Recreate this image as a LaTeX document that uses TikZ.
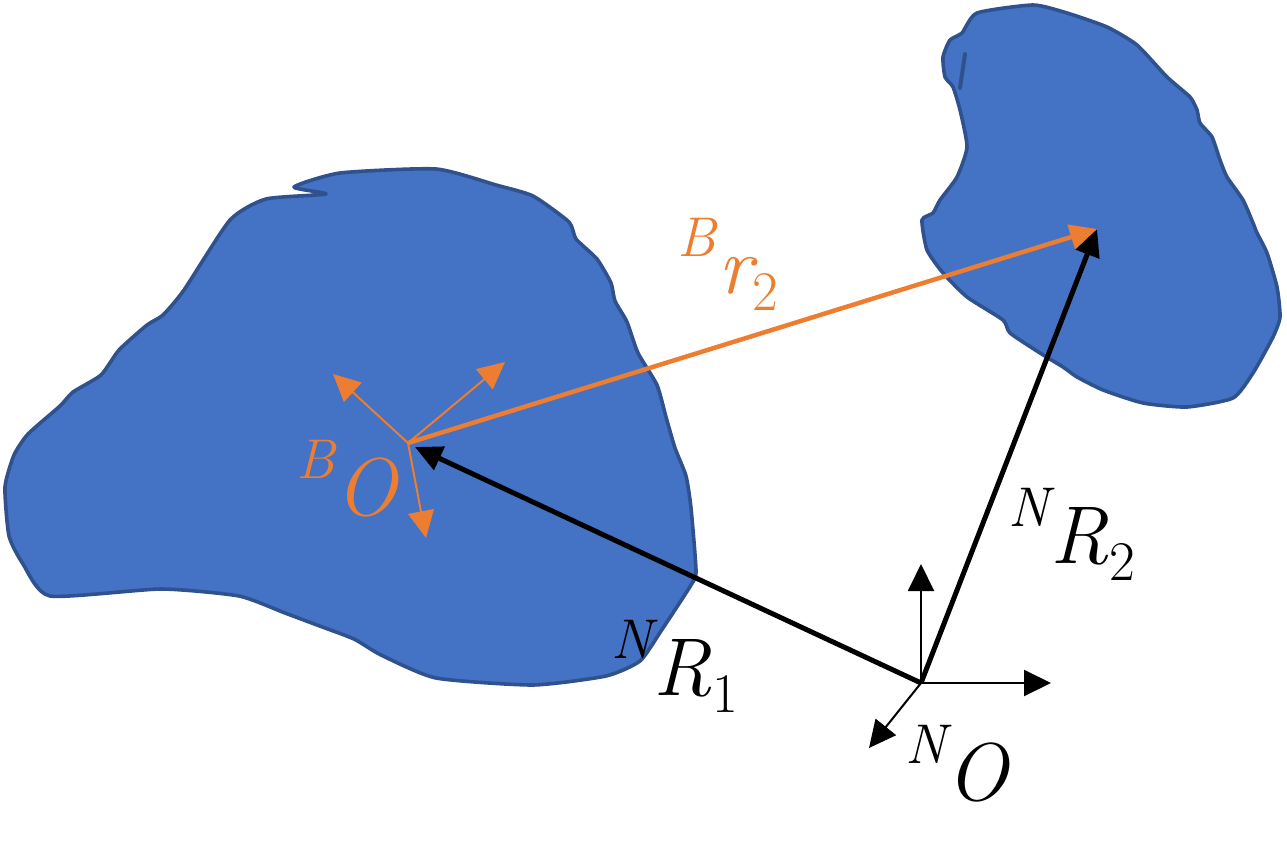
\documentclass[tikz,border=0pt]{standalone}
\usetikzlibrary{arrows.meta}
\definecolor{blobfill}{HTML}{4472C4}
\definecolor{blobline}{HTML}{2F528F}
\definecolor{orng}{HTML}{ED7D31}
\newcommand\mysup[1]{\raisebox{37pt}{\fontsize{56}{60}\selectfont\itshape #1}}
\newcommand\mysub[1]{\raisebox{-17pt}{\fontsize{56}{60}\selectfont\upshape #1}}
\tikzset{
  blob/.style={fill=blobfill,draw=blobline,line width=3.6pt,line join=round},
  thickarrow/.style={line width=5pt,-{Triangle[length=27pt,width=25pt]}},
  thinarrow/.style={line width=2pt,-{Triangle[length=27pt,width=26pt]}},
  lbl/.style={inner sep=0pt,anchor=base west,font=\fontsize{82}{90}\selectfont\itshape}
}
\begin{document}
\begin{tikzpicture}[x=1pt,y=-1pt]
\useasboundingbox (0,0) rectangle (1287,843);
% left body
\draw[blob] plot[smooth cycle,tension=0.35] coordinates {
 (340,173) (436,169) (496,185) (533,196) (569,222) (576,239) (597,259) (611,283)
 (615,301) (627,322) (638,353) (657,385) (666,417) (675,448) (686,476) (691,508)
 (696,571) (691,585) (661,631) (640,661) (606,676) (533,685) (436,678) (381,655)
 (354,639) (317,625) (285,613) (239,596) (161,589) (50,596) (23,564) (9,536)
 (5,487) (14,455) (28,434) (60,406) (73,392) (101,375) (119,350) (147,325)
 (163,315) (184,290) (230,220) (266,199) (326,194) (294,187)};
% right body
\draw[blob] plot[smooth cycle,tension=0.35] coordinates {
 (977,13) (1033,5) (1067,13) (1107,27) (1137,45) (1167,77) (1190,97) (1197,110)
 (1200,123) (1212,137) (1220,160) (1227,177) (1243,200) (1253,223) (1257,233)
 (1267,253) (1277,287) (1280,317) (1273,337) (1253,373) (1233,398) (1187,407)
 (1143,403) (1103,390) (1077,377) (1063,367) (1040,353) (1010,333) (1003,320)
 (967,297) (943,273) (927,250) (922,220) (933,213) (940,200) (957,177) (967,147)
 (960,110) (953,87) (945,77) (943,57) (950,40) (962,33)};
\draw[blobline,line width=4pt,line cap=round] (965,54) -- (960,88);
% key points
\coordinate (BO) at (408,443);
\coordinate (BOtip) at (415,447);
\coordinate (NO) at (921,683);
\coordinate (P) at (1097,229);
\coordinate (bx) at (333,374);
\coordinate (by) at (505,362);
\coordinate (bz) at (426,538);
\coordinate (nx) at (1051,683);
\coordinate (ny) at (921,564);
\coordinate (nz) at (869,748);
% body frame axes
\draw[thinarrow,orng] (BO) -- (bx);
\draw[thinarrow,orng] (BO) -- (by);
\draw[thinarrow,orng] (BO) -- (bz);
% inertial frame axes
\draw[thinarrow,black] (NO) -- (nx);
\draw[thinarrow,black] (NO) -- (ny);
\draw[thinarrow,black] (NO) -- (nz);
% position vectors
\draw[thickarrow,black] (NO) -- (BOtip);
\draw[thickarrow,black] (NO) -- (P);
\draw[thickarrow,orng,line width=4.5pt] (BO) -- (P);
% labels
\node[lbl,text=orng] (lBO) at (296,515) {\mysup{B}\hspace{1pt}O};
\node[lbl,text=orng] (lr2) at (677,293) {\mysup{B}\hspace{3pt}r\mysub{2}};
\node[lbl] (lR1) at (611,695) {\mysup{N}\hspace{2pt}R\mysub{1}};
\node[lbl] (lR2) at (1008,563) {\mysup{N}\hspace{2pt}R\mysub{2}};
\node[lbl] (lNO) at (905,800) {\mysup{N}\hspace{1pt}O};
\end{tikzpicture}
\end{document}
